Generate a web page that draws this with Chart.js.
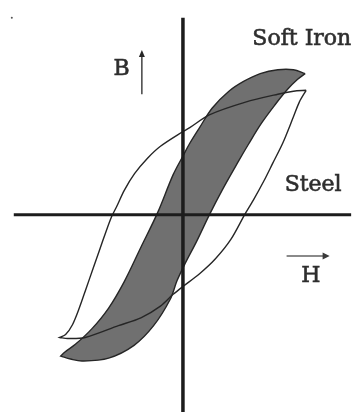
<!DOCTYPE html>
<html>
<head>
<meta charset="utf-8">
<script src="https://cdn.jsdelivr.net/npm/chart.js@4.4.1/dist/chart.umd.min.js"></script>
<style>
  html, body { margin: 0; padding: 0; background: #fff; }
  canvas { display: block; }
</style>
</head>
<body>
<canvas id="myChart" width="361" height="416"></canvas>
<script>
// B-H loops, H and B in arbitrary units
// soft iron: descending branch (top tip -> bottom tip), then ascending branch
const ironDownH = [12.5, 11.3, 9.7, 7.9, 6.2, 4.7, 3.0, 1.7, 0.7, 0, -1.0, -2.6, -4.3, -6.0, -7.6, -9.3, -11.0, -12.1, -12.5];
const ironDownB = [14.4, 14.8, 14.8, 14.4, 13.6, 12.6, 10.9, 8.9, 7.3, 6.0, 4.1, 0.2, -3.3, -6.8, -9.5, -11.6, -13.2, -14.0, -14.4];
const ironUpH = [-12.5, -11.5, -10.3, -7.6, -5.0, -3.0, -1.3, -0.6, 0.2, 1.4, 2.7, 4.0, 5.7, 6.7, 8.0, 9.4, 10.7, 11.7, 12.5];
const ironUpB = [-14.4, -14.7, -14.9, -14.6, -13.3, -11.3, -8.6, -6.7, -5.0, -2.7, 0, 2.5, 5.5, 7.2, 9.3, 11.2, 12.8, 13.8, 14.4];

// steel
const steelDownH = [12.6, 11.3, 9.7, 6.4, 2.7, 0.7, 0, -2.3, -3.6, -4.95, -6.0, -6.8, -7.3, -7.9, -8.5, -9.2, -9.9, -10.6, -11.3, -12.0, -12.6];
const steelDownB = [12.7, 12.6, 12.3, 11.5, 10.2, 8.9, 8.5, 7.0, 5.8, 4.2, 2.5, 0.8, -0.2, -1.8, -3.5, -5.5, -7.5, -9.5, -11.2, -12.2, -12.5];
const steelUpH = [-12.6, -11.8, -10.0, -6.6, -4.3, -2.3, -1.0, 0, 1.7, 3.3, 4.9, 6.3, 7.2, 8.3, 9.2, 10.2, 11.3, 11.9, 12.6];
const steelUpB = [-12.5, -12.6, -12.5, -11.3, -10.5, -9.3, -8.1, -7.3, -6.0, -4.5, -2.5, 0, 1.5, 3.5, 5.3, 7.3, 10.0, 11.5, 12.7];

// axis lines
const hAxisLine = [-17.3, 17.2];
const bAxisLine = [20.1, -20.1];

const toPoints = (xs, ys) => xs.map((x, i) => ({ x: x, y: ys[i] }));
// bottom tip appears twice -> sharp corner there
const ironLoop = toPoints(ironDownH, ironDownB).concat(toPoints(ironUpH, ironUpB));
const steelLoop = toPoints(steelDownH, steelDownB).concat(toPoints(steelUpH, steelUpB));

const ink = '#262626';

const labels = {
  id: 'labels',
  afterDatasetsDraw(chart) {
    const { ctx, scales: { x, y } } = chart;
    const px = v => x.getPixelForValue(v);
    const py = v => y.getPixelForValue(v);

    ctx.save();
    ctx.fillStyle = '#2e2e2e';
    ctx.strokeStyle = '#2e2e2e';
    ctx.lineWidth = 0.6;
    ctx.textBaseline = 'alphabetic';
    ctx.textAlign = 'left';
    ctx.font = '22px "DejaVu Serif"';
    const text = (s, h, b) => {
      ctx.fillText(s, px(h), py(b));
      ctx.strokeText(s, px(h), py(b));
    };
    text('Soft Iron', 7.1, 17.3);
    text('Steel', 10.4, 2.4);
    text('B', -7.1, 14.3);
    text('H', 12.1, -6.8);

    // B arrow
    ctx.fillStyle = ink;
    ctx.strokeStyle = ink;
    ctx.lineWidth = 1.3;
    ctx.beginPath();
    ctx.moveTo(px(-4.2), py(12.3));
    ctx.lineTo(px(-4.2), py(16.4));
    ctx.stroke();
    ctx.beginPath();
    ctx.moveTo(px(-4.2), py(16.8));
    ctx.lineTo(px(-4.2) - 3, py(16.8) + 7);
    ctx.lineTo(px(-4.2) + 3, py(16.8) + 7);
    ctx.closePath();
    ctx.fill();

    // H arrow
    ctx.strokeStyle = '#8a8a8a';
    ctx.lineWidth = 2;
    ctx.beginPath();
    ctx.moveTo(px(10.6), py(-4.2));
    ctx.lineTo(px(14.6), py(-4.2));
    ctx.stroke();
    ctx.fillStyle = '#3a3a3a';
    ctx.beginPath();
    ctx.moveTo(px(15.0), py(-4.2));
    ctx.lineTo(px(15.0) - 7, py(-4.2) - 3.5);
    ctx.lineTo(px(15.0) - 7, py(-4.2) + 3.5);
    ctx.closePath();
    ctx.fill();
    ctx.restore();
  }
};

new Chart(document.getElementById('myChart'), {
  type: 'scatter',
  data: {
    datasets: [
      {
        label: 'H axis',
        data: toPoints(hAxisLine, [0, 0]),
        showLine: true,
        borderColor: '#1c1c1c',
        borderWidth: 3,
        pointRadius: 0,
        order: 0,
      },
      {
        label: 'B axis',
        data: toPoints([0, 0], bAxisLine),
        showLine: true,
        borderColor: '#1c1c1c',
        borderWidth: 3.5,
        pointRadius: 0,
        order: 0,
      },
      {
        label: 'Steel',
        data: steelLoop,
        showLine: true,
        borderColor: ink,
        borderWidth: 1.4,
        tension: 0.3,
        pointRadius: 0,
        fill: false,
        order: 1,
      },
      {
        label: 'Soft Iron',
        data: ironLoop,
        showLine: true,
        borderColor: ink,
        borderWidth: 1.4,
        backgroundColor: '#707070',
        tension: 0.35,
        pointRadius: 0,
        fill: 'shape',
        order: 2,
      },
      {
        label: 'dot',
        data: [{ x: -17.5, y: 20.1 }],
        pointRadius: 1,
        backgroundColor: '#555',
        borderWidth: 0,
        order: 3,
      },
    ],
  },
  options: {
    responsive: false,
    animation: false,
    devicePixelRatio: 1,
    layout: { padding: 0 },
    scales: {
      x: { type: 'linear', min: -18.3, max: 17.8, display: false },
      y: { type: 'linear', min: -20.1, max: 21.5, display: false },
    },
    plugins: {
      legend: { display: false },
      tooltip: { enabled: false },
    },
  },
  plugins: [labels],
});
</script>
</body>
</html>
